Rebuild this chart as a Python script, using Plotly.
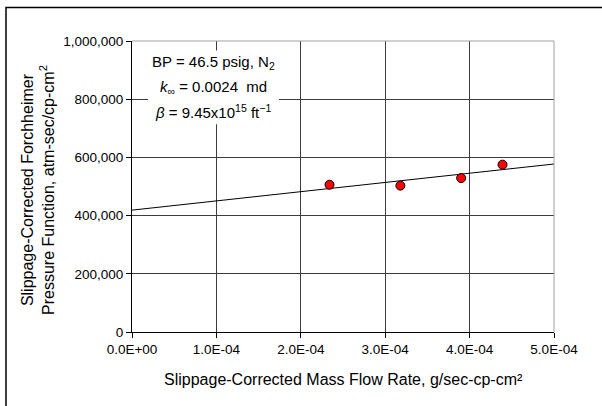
import numpy as np
import plotly.graph_objects as go

# Slippage-corrected mass flow rate (g/sec-cp-cm2) and Forchheimer pressure function
mass_flow = [2.34e-4, 3.18e-4, 3.90e-4, 4.39e-4]
pressure_fn = [506000, 503000, 529000, 575000]

x_tickvals = [0.0, 1e-4, 2e-4, 3e-4, 4e-4, 5e-4]
x_ticktext = ["0.0E+00", "1.0E-04", "2.0E-04", "3.0E-04", "4.0E-04", "5.0E-04"]
y_tickvals = [0, 200000, 400000, 600000, 800000, 1000000]

# Linear least-squares trend line across the axis span
slope, intercept = np.polyfit(mass_flow, pressure_fn, 1)
fit_x = np.array([x_tickvals[0], x_tickvals[-1]])
fit_y = intercept + slope * fit_x

W, H = 602, 406
L, R, T, B = 132, 48, 40.5, 73.5
pw, ph = W - L - R, H - T - B


def px(xp):
    return (xp - L) / pw


def py(yp):
    return (H - B - yp) / ph


font = "Arial, 'Liberation Sans', sans-serif"
grid = "#3c3c3c"
tick_size = 13.5
title_size = 16

fig = go.Figure()
fig.add_trace(go.Scatter(x=fit_x, y=fit_y, mode="lines",
                         line=dict(color="black", width=1), hoverinfo="skip"))
fig.add_trace(go.Scatter(x=mass_flow, y=pressure_fn, mode="markers",
                         marker=dict(color="#ff0000", size=9,
                                     line=dict(color="black", width=1))))

fig.update_layout(
    width=W, height=H, showlegend=False,
    margin=dict(l=L, r=R, t=T, b=B, pad=0),
    paper_bgcolor="white", plot_bgcolor="white",
    font=dict(family=font, size=tick_size, color="black"),
    xaxis=dict(range=[x_tickvals[0], x_tickvals[-1]], tickvals=x_tickvals,
               ticktext=x_ticktext, showgrid=True, gridcolor=grid, gridwidth=1,
               showline=True, linecolor="black", linewidth=1, ticks="outside",
               ticklen=5, tickcolor="black", zeroline=False,
               tickfont=dict(size=tick_size)),
    yaxis=dict(range=[y_tickvals[0], y_tickvals[-1]], tickvals=y_tickvals,
               tickformat=",d", showgrid=True, gridcolor=grid, gridwidth=1,
               showline=True, linecolor="black", linewidth=1, ticks="outside",
               ticklen=5, tickcolor="black", zeroline=False,
               tickfont=dict(size=tick_size)),
)

# Plot-area border (gray) on top and right
fig.add_shape(type="line", xref="paper", yref="paper", x0=0, x1=1, y0=1, y1=1,
              line=dict(color="#a0a0a0", width=1))
fig.add_shape(type="line", xref="paper", yref="paper", x0=1, x1=1, y0=0, y1=1,
              line=dict(color="#a0a0a0", width=1))

# Chart-area frame
fig.add_shape(type="rect", xref="paper", yref="paper",
              x0=px(6), x1=px(640), y0=py(440), y1=py(7),
              line=dict(color="black", width=1.5), fillcolor="rgba(0,0,0,0)")

# Box behind the parameter text
fig.add_shape(type="rect", xref="paper", yref="paper", layer="above",
              x0=px(148), x1=px(279), y0=py(124), y1=py(50),
              line=dict(width=0), fillcolor="white")

cx = px(213)
for yp, txt in [
    (62, "BP = 46.5 psig, N<sub>2</sub>"),
    (87, "<i>k</i><sub>∞</sub> = 0.0024  md"),
    (111, "<i>β</i> = 9.45x10<sup>15</sup> ft<sup>−1</sup>"),
]:
    fig.add_annotation(x=cx, y=py(yp), xref="paper", yref="paper", text=txt,
                       showarrow=False, xanchor="center", yanchor="middle",
                       font=dict(family=font, size=15, color="black"))

# Axis titles
fig.add_annotation(x=px(38), y=py(190), xref="paper", yref="paper",
                   text="Slippage-Corrected Forchheimer<br>Pressure Function, atm-sec/cp-cm<sup>2</sup>",
                   textangle=-90, showarrow=False, xanchor="center", yanchor="middle",
                   font=dict(family=font, size=title_size, color="black"))
fig.add_annotation(x=0.5, y=py(380), xref="paper", yref="paper",
                   text="Slippage-Corrected Mass Flow Rate, g/sec-cp-cm²",
                   showarrow=False, xanchor="center", yanchor="middle",
                   font=dict(family=font, size=title_size, color="black"))

fig.write_html("out.html")
